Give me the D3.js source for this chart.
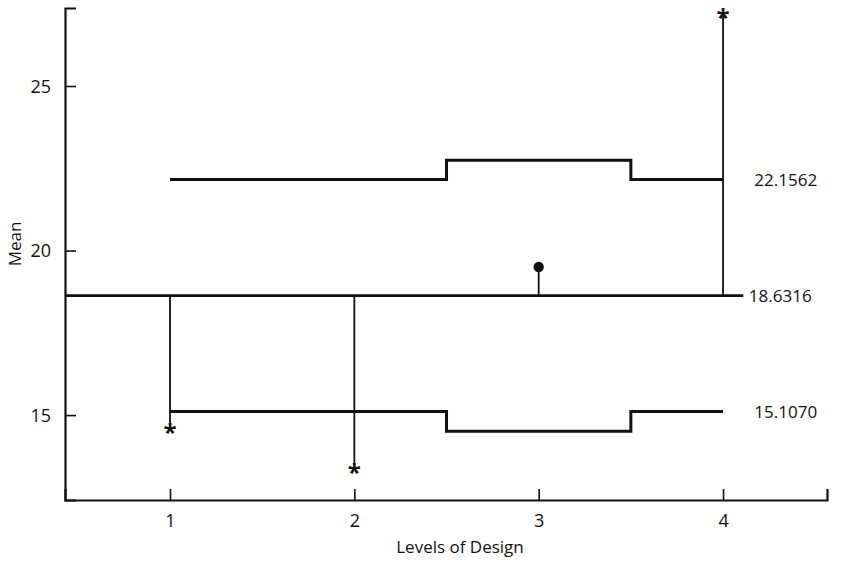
<!DOCTYPE html>
<html>
<head>
<meta charset="utf-8">
<script src="https://cdn.jsdelivr.net/npm/d3@7"></script>
<style>
  html, body { margin: 0; padding: 0; background: #fff; }
  text { font-family: "Open Sans", "DejaVu Sans", sans-serif; fill: #111; }
</style>
</head>
<body>
<svg id="chart" width="866" height="561"></svg>
<script>
// ---- data ----
const levels = [1, 2, 3, 4];
const means = [14.54, 13.33, 19.50, 27.16];
const markers = ["*", "*", "dot", "*"];
const upperLimits = [22.1562, 22.1562, 22.74, 22.1562];
const lowerLimits = [15.1070, 15.1070, 14.51, 15.1070];
const centerLine = 18.6316;
const yTicks = [15, 20, 25];
const xTicks = [1, 2, 3, 4];
const limitLabels = ["22.1562", "18.6316", "15.1070"];
const xTitle = "Levels of Design";
const yTitle = "Mean";

// ---- layout ----
const svg = d3.select("#chart");
const x = d3.scaleLinear().domain([0.4304, 4.564]).range([65, 827]);
const y = d3.scaleLinear().domain([12.42, 27.37]).range([500, 8]);
const ink = "#111";

// axes
const yAxis = d3.axisLeft(y).tickValues(yTicks).tickSize(-11).tickPadding(14).tickFormat(d3.format("d"));
const gy = svg.append("g").attr("transform", `translate(${x.range()[0]},0)`).call(yAxis);
gy.select(".domain").attr("stroke", ink).attr("stroke-width", 2.2);
gy.selectAll(".tick line").attr("stroke", ink).attr("stroke-width", 1.6);
gy.selectAll(".tick text").attr("font-size", 18).attr("fill", ink).attr("dy", "0.35em");

const xAxis = d3.axisBottom(x).tickValues(xTicks).tickSize(-11).tickPadding(14).tickFormat(d3.format("d"));
const gx = svg.append("g").attr("transform", `translate(0,${y.range()[0]})`).call(xAxis);
gx.select(".domain").attr("stroke", ink).attr("stroke-width", 2.2);
gx.selectAll(".tick line").attr("stroke", ink).attr("stroke-width", 1.6);
gx.selectAll(".tick text").attr("font-size", 18).attr("fill", ink);

// axis titles
svg.append("text").attr("x", 460).attr("y", 553)
  .attr("text-anchor", "middle").attr("font-size", 17).text(xTitle);
svg.append("text").attr("transform", `translate(21,244) rotate(-90)`)
  .attr("text-anchor", "middle").attr("font-size", 17).text(yTitle);

// step decision lines
function stepPath(vals) {
  const pts = [];
  levels.forEach((lv, i) => {
    const x0 = i === 0 ? lv : lv - 0.5;
    const x1 = i === levels.length - 1 ? lv : lv + 0.5;
    pts.push([x(x0), y(vals[i])]);
    pts.push([x(x1), y(vals[i])]);
  });
  return d3.line()(pts);
}
svg.append("path").attr("d", stepPath(upperLimits)).attr("fill", "none")
  .attr("stroke", ink).attr("stroke-width", 3);
svg.append("path").attr("d", stepPath(lowerLimits)).attr("fill", "none")
  .attr("stroke", ink).attr("stroke-width", 3);

// center line
svg.append("line").attr("x1", x.range()[0]).attr("x2", x(4.11))
  .attr("y1", y(centerLine)).attr("y2", y(centerLine))
  .attr("stroke", ink).attr("stroke-width", 2.6);

// stems
svg.selectAll(".stem").data(levels).join("line").attr("class", "stem")
  .attr("x1", d => x(d)).attr("x2", d => x(d))
  .attr("y1", y(centerLine)).attr("y2", (d, i) => y(means[i]))
  .attr("stroke", ink).attr("stroke-width", 1.8);

// markers
levels.forEach((lv, i) => {
  if (markers[i] === "dot") {
    svg.append("circle").attr("cx", x(lv)).attr("cy", y(means[i])).attr("r", 5.2).attr("fill", ink);
  } else {
    svg.append("text").attr("x", x(lv)).attr("y", y(means[i]) + 11)
      .attr("text-anchor", "middle").attr("font-size", 24).attr("font-weight", "bold").text("*");
  }
});

// limit labels
const labelVals = [upperLimits[3], centerLine, lowerLimits[3]];
svg.selectAll(".lim").data(limitLabels).join("text").attr("class", "lim")
  .attr("x", (d, i) => i === 1 ? x(4.14) : x(4.17))
  .attr("y", (d, i) => y(labelVals[i]))
  .attr("dy", "0.35em").attr("font-size", 17).text(d => d);
</script>
</body>
</html>
